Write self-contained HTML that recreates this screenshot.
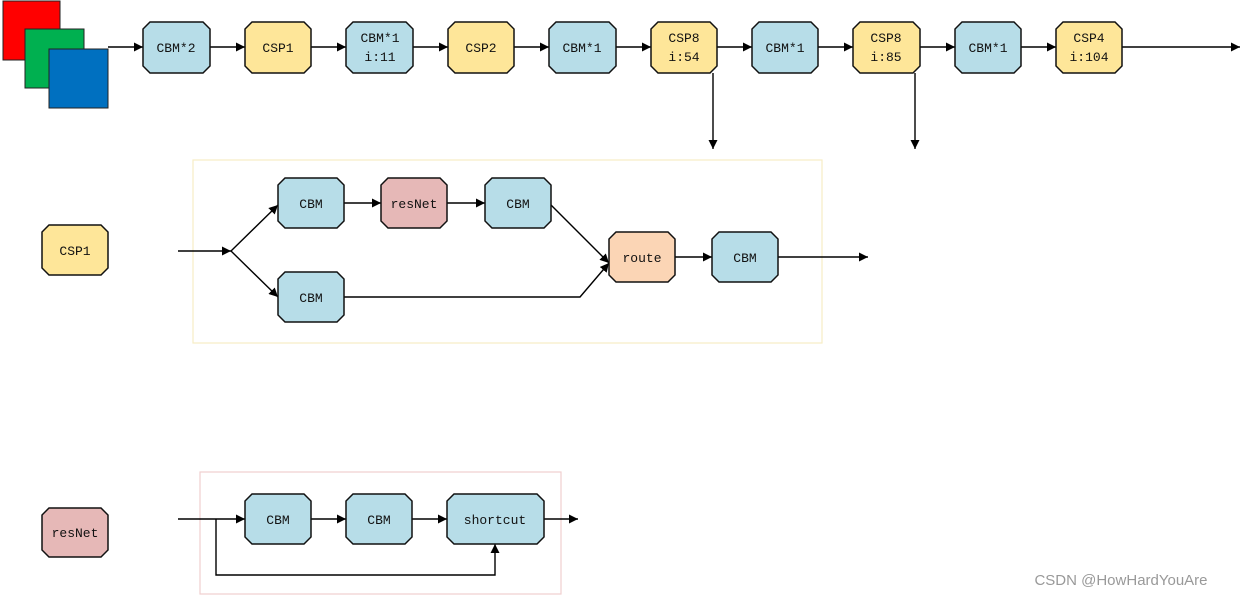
<!DOCTYPE html>
<html><head><meta charset="utf-8"><style>
html,body{margin:0;padding:0;background:#fff;}
svg{display:block;}
text{font-family:"Liberation Mono","DejaVu Sans Mono",monospace;font-size:13px;fill:#111;text-anchor:middle;}
.b{fill:#b7dde8;stroke:#111;stroke-width:1.5}
.y{fill:#fee699;stroke:#111;stroke-width:1.5}
.p{fill:#e6b8b7;stroke:#111;stroke-width:1.5}
.o{fill:#fbd5b5;stroke:#111;stroke-width:1.5}
.l{stroke:#000;stroke-width:1.4;fill:none}
</style></head><body>
<svg width="1241" height="596" viewBox="0 0 1241 596" xmlns="http://www.w3.org/2000/svg">
<defs><marker id="a" viewBox="0 0 10 10" refX="10" refY="5" markerWidth="9" markerHeight="9" markerUnits="userSpaceOnUse" orient="auto"><path d="M0,0L10,5L0,10z" fill="#000"/></marker></defs>
<rect x="3" y="1" width="57" height="59" fill="#ff0000" stroke="#222" stroke-width="1"/>
<rect x="25" y="29" width="59" height="59" fill="#00b050" stroke="#222" stroke-width="1"/>
<rect x="49" y="49" width="59" height="59" fill="#0070c0" stroke="#222" stroke-width="1"/>
<!-- top row lines -->
<g class="l" marker-end="url(#a)">
<line x1="108" y1="47" x2="143" y2="47"/>
<line x1="210" y1="47" x2="245" y2="47"/>
<line x1="311" y1="47" x2="346" y2="47"/>
<line x1="413" y1="47" x2="448" y2="47"/>
<line x1="514" y1="47" x2="549" y2="47"/>
<line x1="616" y1="47" x2="651" y2="47"/>
<line x1="717" y1="47" x2="752" y2="47"/>
<line x1="818" y1="47" x2="853" y2="47"/>
<line x1="920" y1="47" x2="955" y2="47"/>
<line x1="1021" y1="47" x2="1056" y2="47"/>
<line x1="1122" y1="47" x2="1240" y2="47"/>
<line x1="713" y1="73" x2="713" y2="149"/>
<line x1="915" y1="73" x2="915" y2="149"/>
</g>
<polygon class="b" points="150,22 203,22 210,29 210,66 203,73 150,73 143,66 143,29"/><text x="176" y="52">CBM*2</text>
<polygon class="y" points="252,22 304,22 311,29 311,66 304,73 252,73 245,66 245,29"/><text x="278" y="52">CSP1</text>
<polygon class="b" points="353,22 406,22 413,29 413,66 406,73 353,73 346,66 346,29"/><text x="380" y="42">CBM*1</text><text x="380" y="61">i:11</text>
<polygon class="y" points="455,22 507,22 514,29 514,66 507,73 455,73 448,66 448,29"/><text x="481" y="52">CSP2</text>
<polygon class="b" points="556,22 609,22 616,29 616,66 609,73 556,73 549,66 549,29"/><text x="582" y="52">CBM*1</text>
<polygon class="y" points="658,22 710,22 717,29 717,66 710,73 658,73 651,66 651,29"/><text x="684" y="42">CSP8</text><text x="684" y="61">i:54</text>
<polygon class="b" points="759,22 811,22 818,29 818,66 811,73 759,73 752,66 752,29"/><text x="785" y="52">CBM*1</text>
<polygon class="y" points="860,22 913,22 920,29 920,66 913,73 860,73 853,66 853,29"/><text x="886" y="42">CSP8</text><text x="886" y="61">i:85</text>
<polygon class="b" points="962,22 1014,22 1021,29 1021,66 1014,73 962,73 955,66 955,29"/><text x="988" y="52">CBM*1</text>
<polygon class="y" points="1063,22 1115,22 1122,29 1122,66 1115,73 1063,73 1056,66 1056,29"/><text x="1089" y="42">CSP4</text><text x="1089" y="61">i:104</text>

<!-- CSP1 section -->
<rect x="193" y="160" width="629" height="183" fill="none" stroke="#f7edc4" stroke-width="1.2"/>
<polygon class="y" points="49,225 101,225 108,232 108,268 101,275 49,275 42,268 42,232"/><text x="75" y="255">CSP1</text>
<g class="l" marker-end="url(#a)">
<line x1="178" y1="251" x2="231" y2="251"/>
<line x1="231" y1="251" x2="278" y2="205"/>
<line x1="231" y1="251" x2="278" y2="297"/>
<line x1="344" y1="203" x2="381" y2="203"/>
<line x1="447" y1="203" x2="485" y2="203"/>
<polyline points="551,205 609,263"/>
<polyline points="344,297 580,297 609,263"/>
<line x1="675" y1="257" x2="712" y2="257"/>
<line x1="778" y1="257" x2="868" y2="257"/>
</g>
<polygon class="b" points="285,178 337,178 344,185 344,221 337,228 285,228 278,221 278,185"/><text x="311" y="208">CBM</text>
<polygon class="p" points="388,178 440,178 447,185 447,221 440,228 388,228 381,221 381,185"/><text x="414" y="208">resNet</text>
<polygon class="b" points="492,178 544,178 551,185 551,221 544,228 492,228 485,221 485,185"/><text x="518" y="208">CBM</text>
<polygon class="b" points="285,272 337,272 344,279 344,315 337,322 285,322 278,315 278,279"/><text x="311" y="302">CBM</text>
<polygon class="o" points="616,232 668,232 675,239 675,275 668,282 616,282 609,275 609,239"/><text x="642" y="262">route</text>
<polygon class="b" points="719,232 771,232 778,239 778,275 771,282 719,282 712,275 712,239"/><text x="745" y="262">CBM</text>

<!-- resNet section -->
<rect x="200" y="472" width="361" height="122" fill="none" stroke="#efcfcf" stroke-width="1.2"/>
<polygon class="p" points="49,508 101,508 108,515 108,550 101,557 49,557 42,550 42,515"/><text x="75" y="537">resNet</text>
<g class="l" marker-end="url(#a)">
<line x1="178" y1="519" x2="245" y2="519"/>
<line x1="311" y1="519" x2="346" y2="519"/>
<line x1="412" y1="519" x2="447" y2="519"/>
<line x1="544" y1="519" x2="578" y2="519"/>
<polyline points="216,519 216,575 495,575 495,544"/>
</g>
<polygon class="b" points="252,494 304,494 311,501 311,537 304,544 252,544 245,537 245,501"/><text x="278" y="524">CBM</text>
<polygon class="b" points="353,494 405,494 412,501 412,537 405,544 353,544 346,537 346,501"/><text x="379" y="524">CBM</text>
<polygon class="b" points="454,494 537,494 544,501 544,537 537,544 454,544 447,537 447,501"/><text x="495" y="524">shortcut</text>
<text x="1121" y="585" style="font-family:'Liberation Sans',sans-serif;font-size:15px;fill:#999">CSDN @HowHardYouAre</text>
</svg>
</body></html>
